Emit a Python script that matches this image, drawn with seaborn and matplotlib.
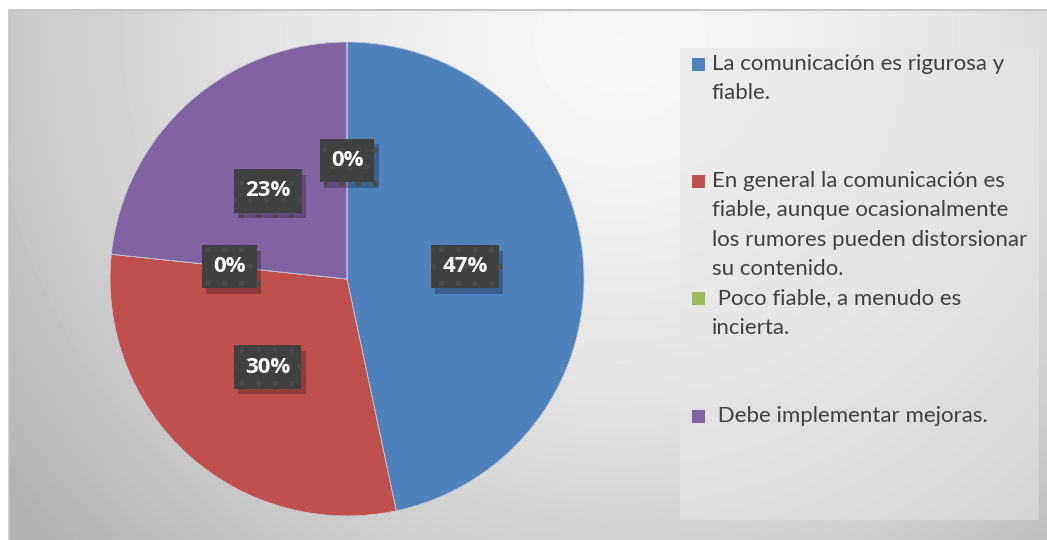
import numpy as np
import matplotlib
matplotlib.use('Agg')
import matplotlib.pyplot as plt
import matplotlib.patheffects as pe
import seaborn as sns
from matplotlib.patches import Rectangle

# data (counts out of 30 -> 47 / 30 / 0 / 23 / 0 %)
categories = ['La comunicación es rigurosa y\nfiable.',
              'En general la comunicación es\nfiable, aunque ocasionalmente\nlos rumores pueden distorsionar\nsu contenido.',
              ' Poco fiable, a menudo es\nincierta.',
              ' Debe implementar mejoras.',
              '']
counts = [14, 9, 0, 7, 0]
colors = ['#4F81BD', '#C0504D', '#9BBB59', '#8064A2', '#F79646']

sns.set_theme(style='white')
plt.rcParams['font.family'] = ['Lato', 'DejaVu Sans']
plt.rcParams['hatch.linewidth'] = 1.5

W, H = 1047, 540
fig = plt.figure(figsize=(W / 100, H / 100), dpi=100)
fig.patch.set_facecolor('white')

# background panel with a soft radial gradient
bx0, by0, bx1, by1 = 9, 10, 1047, 540
bg = fig.add_axes([bx0 / W, 1 - by1 / H, (bx1 - bx0) / W, (by1 - by0) / H])
xx, yy = np.meshgrid(np.arange(bx0, bx1), np.arange(by0, by1))
d = np.sqrt(((xx - 620) / 640.0) ** 2 + ((yy - 40) / 620.0) ** 2)
val = 0.965 - 0.2 * np.clip(d, 0, 1.2) ** 1.6
bg.imshow(val, cmap='gray', vmin=0, vmax=1, aspect='auto', interpolation='bilinear')
bg.set_axis_off()
fig.add_artist(plt.Line2D([bx0 / W, bx1 / W], [1 - by0 / H, 1 - by0 / H], color='#bdbdbd', lw=1.2))
fig.add_artist(plt.Line2D([bx0 / W, bx0 / W], [0, 1 - by0 / H], color='#c4c4c4', lw=1.2))

# pie
cx, cy, r = 347, 279, 237
ax = fig.add_axes([(cx - r) / W, 1 - (cy + r) / H, 2 * r / W, 2 * r / H])
ax.set_facecolor('none')
total = sum(counts)
wedges, _ = ax.pie(counts, colors=colors, startangle=90, counterclock=False,
                   radius=1, wedgeprops=dict(linewidth=0.6, edgecolor='#c8c8d8'))
ax.set_xlim(-1, 1)
ax.set_ylim(-1, 1)
ax.set_aspect('equal')
ax.set_axis_off()

# percentage labels in dark boxes with a drop shadow
angle = 90.0
for c in counts:
    sweep = c / total * 360
    mid = np.deg2rad(angle - sweep / 2)
    angle -= sweep
    lx, ly = 0.5 * np.cos(mid), 0.5 * np.sin(mid)
    txt = f'{round(c / total * 100):.0f}%'
    t = ax.text(lx, ly, txt, ha='center', va='center', fontsize=16, fontweight='bold',
                family='Open Sans', color='white',
                bbox=dict(boxstyle='square,pad=0.5', fc='#404040', ec='#4a4a4a', lw=0, hatch='.'))
    t.get_bbox_patch().set_path_effects([
        pe.SimplePatchShadow(offset=(3, -4), shadow_rgbFace='black', alpha=0.25),
        pe.Normal()])

# legend panel
fig.add_artist(Rectangle((680 / W, 1 - 520 / H), (1039 - 680) / W, (520 - 48) / H,
                         transform=fig.transFigure, fc='#e6e6e6', ec='none', alpha=0.55))
line_h = 29.3
for i, (lab, col) in enumerate(zip(categories, colors)):
    if not lab:
        continue
    y0 = 64 + 4 * i * line_h
    fig.add_artist(Rectangle((692 / W, 1 - (y0 + 7) / H), 13 / W, 13 / H,
                             transform=fig.transFigure, fc=col, ec='none'))
    for j, ln in enumerate(lab.split('\n')):
        fig.text(712 / W, 1 - (y0 + j * line_h) / H, ln, ha='left', va='center',
                 fontsize=16, color='#404040')

plt.savefig('out.png', dpi=100)
